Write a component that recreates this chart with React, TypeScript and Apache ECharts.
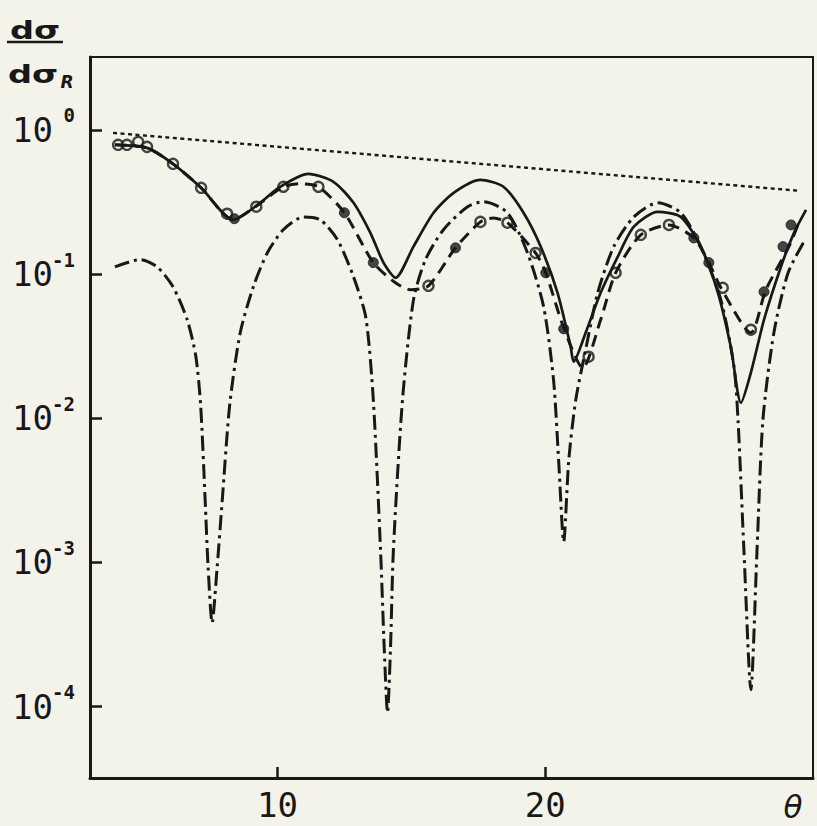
import React, { useEffect, useRef } from "react";
import * as echarts from "echarts";

// x ticks (θ, degrees)
const xTickValues = [10, 20];

// dσ/dσR straight reference line (short dashes)
const dottedCurve: [number, number][] = [
  [3.86, 0.953],
  [29.48, 0.378],
];

// solid theoretical curve
const solidCurve: [number, number][] = [
  [3.93, 0.787], [5.13, 0.75], [6.1, 0.581], [7.15, 0.396], [8.35, 0.238],
  [9.17, 0.293], [10.11, 0.403], [11.15, 0.495], [12.09, 0.436], [12.84, 0.312],
  [13.47, 0.193], [13.96, 0.12], [14.41, 0.0942], [15.08, 0.155], [15.83, 0.266],
  [16.58, 0.366], [17.58, 0.45], [18.44, 0.403], [19.19, 0.266], [19.83, 0.155],
  [20.46, 0.0741], [20.95, 0.0313], [21.06, 0.0247], [21.51, 0.0392], [22.07, 0.0741],
  [22.71, 0.132], [23.31, 0.213], [24.2, 0.27], [25.06, 0.249], [25.81, 0.155],
  [26.45, 0.0741], [26.93, 0.0313], [27.31, 0.0128], [27.68, 0.0207], [28.17, 0.0482],
  [28.8, 0.112], [29.29, 0.193], [29.74, 0.279],
];

// long-dashed curve through the data
const dashedCurve: [number, number][] = [
  [3.93, 0.787], [5.13, 0.75], [6.1, 0.581], [7.15, 0.396], [8.35, 0.238],
  [9.17, 0.293], [10.22, 0.403], [10.85, 0.423], [11.53, 0.403], [12.5, 0.266],
  [13.58, 0.12], [14.41, 0.0869], [14.97, 0.0778], [15.64, 0.0829], [16.65, 0.152],
  [17.58, 0.23], [18.07, 0.245], [18.59, 0.227], [19.64, 0.14], [20.02, 0.102],
  [20.69, 0.0424], [21.4, 0.0224], [22.07, 0.0482], [22.63, 0.102], [23.57, 0.187],
  [24.62, 0.219], [25.55, 0.178], [26.11, 0.12], [26.56, 0.0803], [27.68, 0.0392],
  [28.24, 0.0778], [29.1, 0.155], [29.48, 0.23],
];

// dash-dot curve with deep minima
const dashDotCurve: [number, number][] = [
  [3.93, 0.112], [4.87, 0.126], [5.51, 0.112], [6.1, 0.0816], [6.63, 0.0482],
  [6.95, 0.027], [7.13, 0.0125], [7.3, 0.00272], [7.41, 0.000935], [7.56, 0.000382],
  [7.75, 0.000935], [7.94, 0.00272], [8.22, 0.0125], [8.61, 0.0392], [9.1, 0.0816],
  [9.62, 0.14], [10.22, 0.203], [10.97, 0.249], [11.6, 0.238], [12.24, 0.173],
  [12.84, 0.0957], [13.3, 0.05], [13.58, 0.0134], [13.85, 0.00122], [13.99, 0.000248],
  [14.11, 0.0000908], [14.22, 0.000248], [14.33, 0.00122], [14.67, 0.0134], [15.08, 0.0662],
  [15.53, 0.126], [16.2, 0.203], [17.1, 0.293], [17.7, 0.317], [18.59, 0.266],
  [19.34, 0.14], [19.94, 0.0593], [20.31, 0.0185], [20.5, 0.00515], [20.69, 0.00139],
  [20.88, 0.00515], [21.14, 0.0134], [21.51, 0.0299], [21.96, 0.0741], [22.56, 0.155],
  [23.31, 0.249], [24.2, 0.312], [25.06, 0.266], [25.81, 0.155], [26.56, 0.0662],
  [27.05, 0.0228], [27.2, 0.00977], [27.42, 0.00122], [27.68, 0.000131], [27.91, 0.00122],
  [28.13, 0.00977], [28.54, 0.0392], [29.07, 0.102], [29.74, 0.178],
];

// experimental points
const openPoints: [number, number][] = [
  [4.05, 0.787], [4.38, 0.787], [4.8, 0.826], [5.13, 0.762], [6.1, 0.581],
  [7.15, 0.396], [8.12, 0.262], [9.21, 0.293], [10.22, 0.403], [11.53, 0.403],
  [15.64, 0.0829], [17.58, 0.23], [18.59, 0.227], [19.64, 0.14], [21.62, 0.0267],
  [22.63, 0.102], [23.57, 0.187], [24.62, 0.219], [26.63, 0.0803], [27.68, 0.0411],
];

const filledPoints: [number, number][] = [
  [8.39, 0.242], [12.5, 0.266], [13.58, 0.12], [16.65, 0.152], [20.02, 0.102],
  [20.69, 0.0417], [25.55, 0.178], [26.11, 0.12], [28.17, 0.0753], [28.88, 0.155],
  [29.18, 0.219],
];

const INK = "#181818";
const BG = "#f4f3e9";
const MONO = "DejaVu Sans Mono";

export default function App() {
  const ref = useRef<HTMLDivElement>(null);

  useEffect(() => {
    if (!ref.current) return;
    const chart = echarts.init(ref.current, null, { renderer: "svg" });

    const option: any = {
      animation: false,
      backgroundColor: BG,
      grid: {
        left: 90,
        right: 4,
        top: 57,
        bottom: 48,
        show: true,
        borderColor: INK,
        borderWidth: 2,
        containLabel: false,
        outerBoundsMode: "none",
      },
      xAxis: {
        type: "value",
        min: 3,
        max: 30,
        axisLine: { show: true, onZero: false, lineStyle: { color: INK, width: 3 } },
        axisTick: {
          show: true,
          inside: true,
          length: 11,
          customValues: xTickValues,
          lineStyle: { color: INK, width: 2.5 },
        },
        axisLabel: {
          customValues: xTickValues,
          margin: 10,
          color: INK,
          fontFamily: MONO,
          fontSize: 34,
          lineHeight: 34,
        },
        splitLine: { show: false },
      },
      yAxis: {
        type: "log",
        logBase: 10,
        min: 3.2e-5,
        max: 3.2,
        axisLine: { show: true, onZero: false, lineStyle: { color: INK, width: 3 } },
        axisTick: { show: true, inside: true, length: 12, lineStyle: { color: INK, width: 2.5 } },
        minorTick: { show: false },
        splitLine: { show: false },
        axisLabel: {
          showMinLabel: false,
          showMaxLabel: false,
          margin: 15,
          align: "right",
          formatter: (v: number) => {
            const e = Math.log10(v);
            const r = Math.round(e);
            if (Math.abs(e - r) > 0.01) return "";
            return `{b|10}{s|${r === 0 ? "0" : "-" + Math.abs(r)}}`;
          },
          rich: {
            b: {
              fontFamily: MONO,
              fontSize: 34,
              lineHeight: 48,
              color: INK,
              verticalAlign: "middle",
            },
            s: {
              fontFamily: MONO,
              fontSize: 19,
              lineHeight: 19,
              width: 22,
              align: "right",
              color: INK,
              verticalAlign: "top",
              fontWeight: "bold",
            },
          },
        },
      },
      graphic: [
        {
          type: "text",
          x: 10,
          y: 31,
          scaleX: 1.4,
          style: {
            text: "dσ",
            fontFamily: "DejaVu Sans",
            fontWeight: "bold",
            fontSize: 24,
            fill: INK,
            textAlign: "left",
            textVerticalAlign: "middle",
          },
        },
        {
          type: "line",
          shape: { x1: 7, y1: 42, x2: 63, y2: 42 },
          style: { stroke: INK, lineWidth: 2.5 },
        },
        {
          type: "text",
          x: 8,
          y: 75,
          scaleX: 1.4,
          style: {
            text: "dσ",
            fontFamily: "DejaVu Sans",
            fontWeight: "bold",
            fontSize: 24,
            fill: INK,
            textAlign: "left",
            textVerticalAlign: "middle",
          },
        },
        {
          type: "text",
          x: 67,
          y: 82,
          style: {
            text: "R",
            fontFamily: "DejaVu Sans",
            fontStyle: "italic",
            fontWeight: "bold",
            fontSize: 17,
            fill: INK,
            textAlign: "center",
            textVerticalAlign: "middle",
          },
        },
        {
          type: "text",
          x: 793,
          y: 807,
          style: {
            text: "θ",
            fontFamily: "DejaVu Sans",
            fontStyle: "italic",
            fontSize: 31,
            fill: INK,
            textAlign: "center",
            textVerticalAlign: "middle",
          },
        },
      ],
      series: [
        {
          type: "line",
          data: dottedCurve,
          symbol: "none",
          lineStyle: { color: INK, width: 2.4, type: [4, 3.5] },
        },
        {
          type: "line",
          data: dashDotCurve,
          symbol: "none",
          smooth: 0.25,
          lineStyle: { color: INK, width: 3, type: [15, 5, 3, 5] },
        },
        {
          type: "line",
          data: dashedCurve,
          symbol: "none",
          smooth: 0.25,
          lineStyle: { color: INK, width: 3, type: [12, 7] },
        },
        {
          type: "line",
          data: solidCurve,
          symbol: "none",
          smooth: 0.25,
          lineStyle: { color: INK, width: 2.7 },
        },
        {
          type: "scatter",
          data: openPoints,
          symbol: "circle",
          symbolSize: 10,
          itemStyle: { color: BG, borderColor: INK, borderWidth: 2.4 },
        },
        {
          type: "scatter",
          data: filledPoints,
          symbol: "circle",
          symbolSize: 10,
          itemStyle: { color: INK, borderColor: INK, borderWidth: 1 },
        },
      ],
    };

    chart.setOption(option);
    return () => chart.dispose();
  }, []);

  return (
    <div
      ref={ref}
      style={{ position: "fixed", left: 0, top: 0, width: 817, height: 826 }}
    />
  );
}
